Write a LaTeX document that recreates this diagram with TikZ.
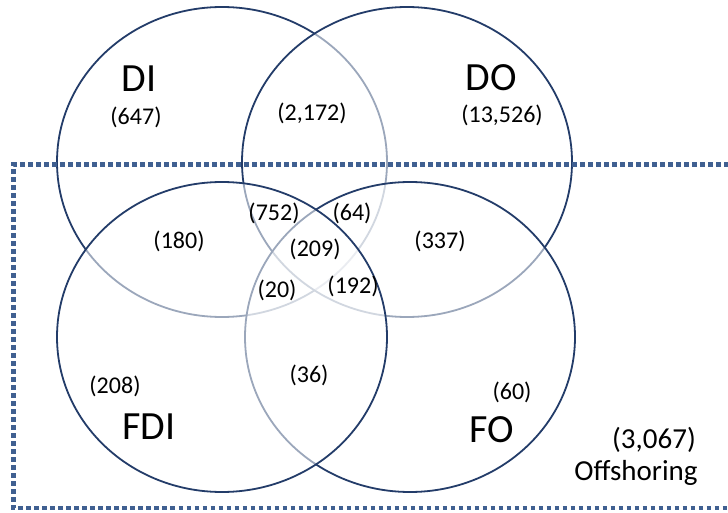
\documentclass[tikz,border=0pt]{standalone}
\usepackage{fontspec}
\setmainfont{Carlito}
\definecolor{navy}{RGB}{35,60,105}
\definecolor{dotblue}{RGB}{64,96,145}
\tikzset{
  circ/.style={draw=navy, line width=1.8pt, fill=white, fill opacity=0.55, draw opacity=1},
  frame/.style={draw=dotblue, line width=4.6pt, dash pattern=on 4.6pt off 3.4pt},
  big/.style={anchor=base, inner sep=0pt, font=\fontsize{40}{40}\selectfont},
  num/.style={anchor=base, inner sep=0pt, font=\fontsize{24}{24}\selectfont},
  off/.style={anchor=base, inner sep=0pt, font=\fontsize{29}{29}\selectfont}
}
\begin{document}
\begin{tikzpicture}[x=1pt,y=-1pt]
\useasboundingbox (0,0) rectangle (728,513);
% circles (drawing order matters for the faded arcs)
\path[circ] (222,162) ellipse [x radius=165pt, y radius=155pt];
\path[circ] (407,162) ellipse [x radius=165pt, y radius=155pt];
\path[circ] (410,337) ellipse [x radius=165pt, y radius=155pt];
\path[circ] (222,337) ellipse [x radius=165pt, y radius=155pt];
% offshoring frame
\draw[frame] (745,164.5) -- (13.5,164.5) -- (13.5,508) -- (745,508);
% labels
\node[big] (DI) at (139,92) {DI};
\node[big] (DO) at (491,91) {DO};
\node[big] (FDI) at (149,439) {FDI};
\node[big] (FO) at (492,442) {FO};
\node[num] (n647) at (136,125) {(647)};
\node[num] (n2172) at (312,121) {(2,172)};
\node[num] (n13526) at (502,123) {(13,526)};
\node[num] (n180) at (179,248) {(180)};
\node[num] (n337) at (440,248) {(337)};
\node[num] (n752) at (274,221) {(752)};
\node[num] (n64) at (352,221) {(64)};
\node[num] (n209) at (315,256) {(209)};
\node[num] (n20) at (277,297) {(20)};
\node[num] (n192) at (353,293) {(192)};
\node[num] (n208) at (115,393) {(208)};
\node[num] (n36) at (309,382) {(36)};
\node[num] (n60) at (512,399) {(60)};
\node[off] (n3067) at (654,448) {(3,067)};
\node[off] (offs) at (636,480) {Offshoring};
\end{tikzpicture}
\end{document}
